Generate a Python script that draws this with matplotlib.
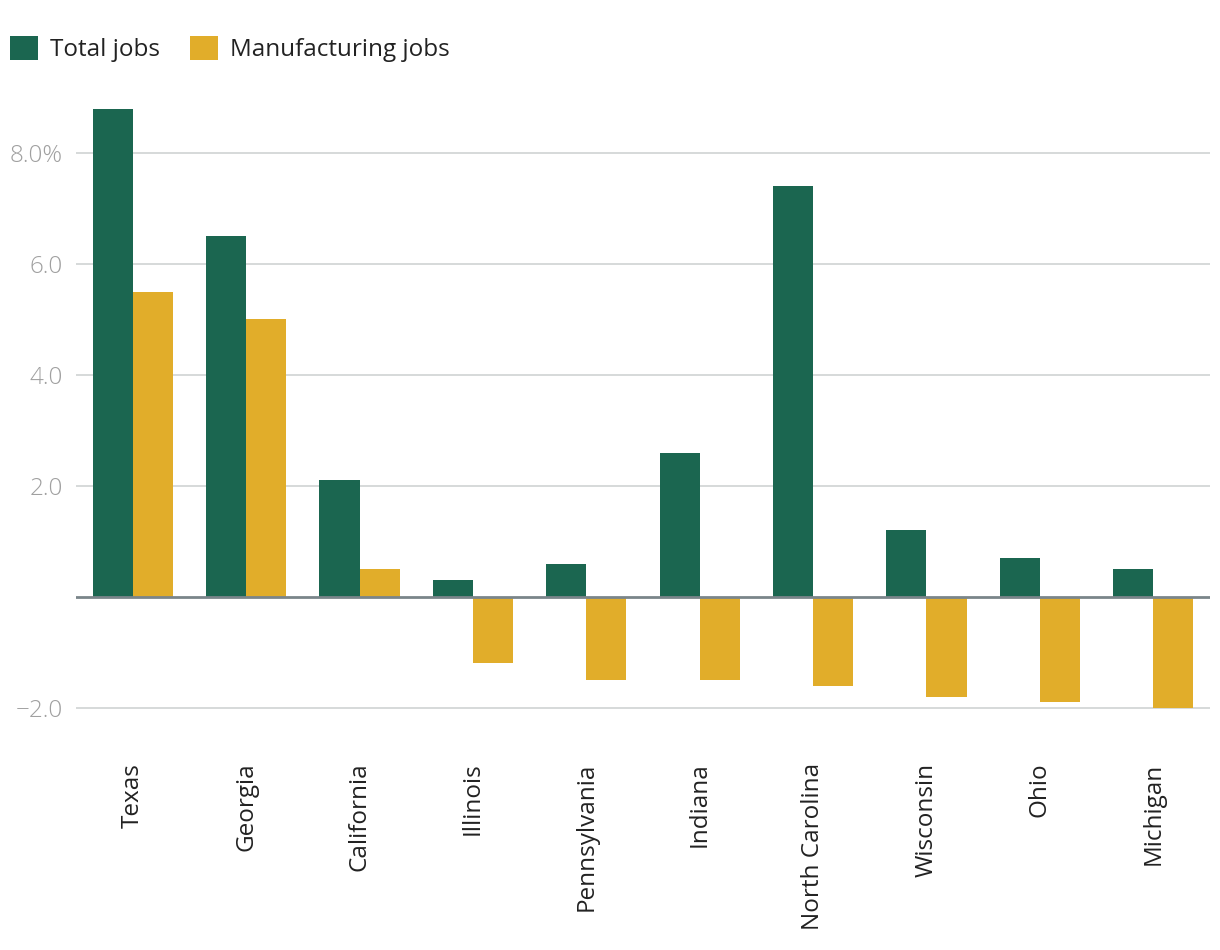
import matplotlib
matplotlib.use('Agg')
import matplotlib.pyplot as plt
import numpy as np

plt.rcParams['font.family'] = ['Open Sans', 'DejaVu Sans']

# Données
states = ['Texas', 'Georgia', 'California', 'Illinois', 'Pennsylvania',
          'Indiana', 'North Carolina', 'Wisconsin', 'Ohio', 'Michigan']
total_jobs = [8.8, 6.5, 2.1, 0.3, 0.6, 2.6, 7.4, 1.2, 0.7, 0.5]
manufacturing_jobs = [5.5, 5.0, 0.5, -1.2, -1.5, -1.5, -1.6, -1.8, -1.9, -2.0]
y_ticks = [-2, 0, 2, 4, 6, 8]
y_tick_labels = ['\u22122.0', '', '2.0', '4.0', '6.0', '8.0%']

green = '#1b6650'
yellow = '#e1ad2a'

fig = plt.figure(figsize=(12.2, 9.5), dpi=100)
ax = fig.add_axes([0.0623, 0.2432, 0.9295, 0.6484])

x = np.arange(len(states))
w = 0.353
ax.bar(x - w / 2, total_jobs, w, color=green, label='Total jobs', zorder=2)
ax.bar(x + w / 2, manufacturing_jobs, w, color=yellow, label='Manufacturing jobs', zorder=2)

ax.set_xlim(-0.5, len(states) - 0.5)
ax.set_ylim(-2.2, 8.9)

# Grille
for t in y_ticks:
    if t == 0:
        ax.axhline(0, color='#7a858a', lw=2, zorder=3)
    else:
        ax.axhline(t, color='#d0d3d3', lw=1.2, zorder=1)

ax.set_yticks(y_ticks)
ax.set_yticklabels(y_tick_labels, fontweight='light')
ax.set_xticks(x)
ax.set_xticklabels(states, rotation=90)

# pad en points (100 dpi -> 1 pt = 1.39 px)
ax.tick_params(axis='y', length=0, pad=9.5, labelsize=17.5, labelcolor='#a0a0a0')
ax.tick_params(axis='x', length=0, pad=31.5, labelsize=17.5, labelcolor='#222222')

for s in ax.spines.values():
    s.set_visible(False)

fig.legend(loc='upper left', bbox_to_anchor=(0.0082, 0.962), ncol=2, frameon=False,
           fontsize=17.5, handlelength=1.15, handleheight=1.15, handletextpad=0.5,
           columnspacing=1.23, borderaxespad=0, borderpad=0, labelcolor='#222222')

fig.savefig('out.png', dpi=100)
